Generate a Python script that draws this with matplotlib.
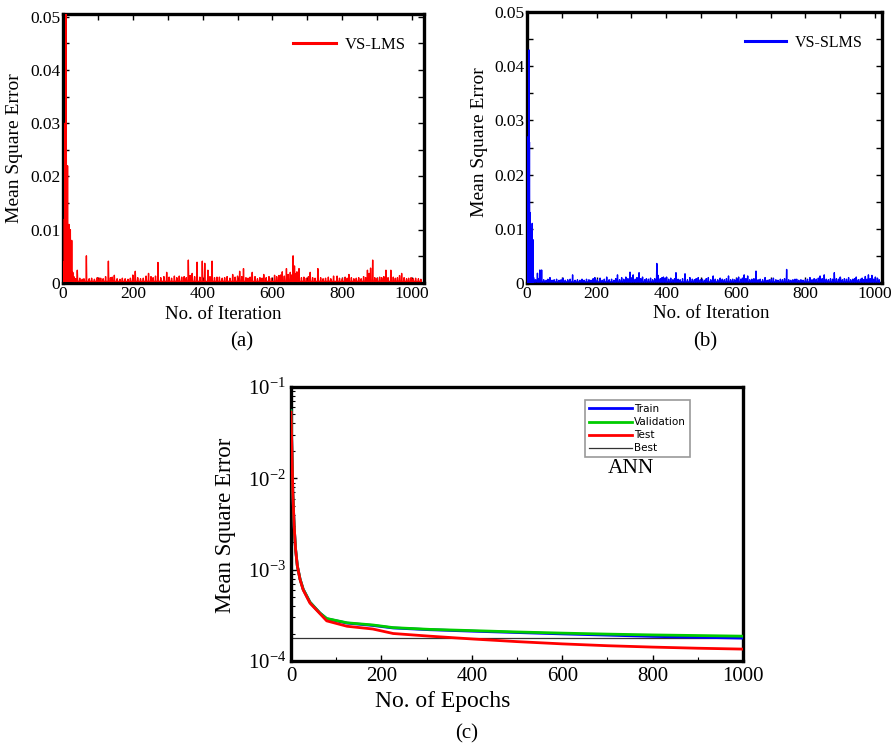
import numpy as np
import matplotlib
matplotlib.use("Agg")
import matplotlib.pyplot as plt
from matplotlib.ticker import MultipleLocator, LogLocator, NullFormatter, LogFormatterMathtext

plt.rcParams['font.family'] = ['Liberation Serif', 'DejaVu Serif']
plt.rcParams['mathtext.fontset'] = 'stix'

# ---------------- data ----------------
# (a) VS-LMS : spike iterations and MSE peaks (x1e-3)
lms_base = 0.0003
lms_iter = [2, 4, 6, 9, 11, 13, 15, 17, 19, 21, 23, 25, 28, 31,
            36, 41, 48, 55, 60, 67, 75, 82, 90, 98, 104, 108, 115, 122, 130, 136, 141, 147,
            155, 163, 170, 178, 186, 193, 200, 207, 214, 222, 230, 238, 245, 252, 258, 265, 272,
            280, 289, 297, 304, 311, 319, 326, 333, 340, 347, 353, 359, 364, 370, 377, 384, 392,
            399, 406, 415, 421, 427, 434, 441, 448, 456, 463, 470, 478, 486, 493, 500, 506, 512,
            517, 524, 530, 536, 542, 550, 557, 564, 570, 575, 582, 590, 597, 606, 612, 618, 623,
            628, 634, 640, 645, 651, 655, 659, 663, 667, 670, 676, 683, 690, 697, 703, 708, 715,
            722, 730, 738, 745, 752, 760, 767, 775, 785, 792, 800, 808, 814, 819, 826, 833, 840,
            847, 854, 861, 867, 872, 877, 881, 887, 893, 900, 907, 913, 919, 925, 931, 939, 946,
            952, 958, 964, 970, 977, 984, 990, 997, 1003, 1010, 1018, 1025]
lms_mse = [4.0, 12.0, 30.0, 50.5, 9.0, 22.0, 6.0, 11.0, 3.0, 10.0, 4.0, 8.0, 2.0, 1.2,
           0.8, 2.4, 0.9, 0.7, 0.8, 5.1, 0.8, 0.9, 0.7, 1.0, 0.9, 0.9, 0.8, 1.2, 4.1, 1.0, 1.1, 1.45,
           0.8, 0.7, 0.9, 0.8, 0.7, 0.9, 1.5, 2.2, 1.0, 0.8, 0.9, 1.3, 1.8, 1.2, 1.0, 1.3, 3.85,
           1.0, 1.2, 2.0, 1.1, 0.9, 1.3, 1.0, 1.3, 1.1, 1.2, 1.0, 4.3, 1.4, 1.8, 1.2, 3.9, 1.1,
           4.1, 3.7, 2.4, 1.2, 4.1, 1.0, 1.1, 1.1, 0.9, 1.0, 1.2, 0.9, 1.6, 1.1, 1.3, 2.2, 1.2,
           2.7, 1.0, 0.9, 1.1, 2.0, 1.2, 0.8, 1.0, 0.9, 1.6, 1.0, 1.2, 0.9, 1.45, 1.2, 1.4, 1.5,
           2.1, 1.3, 2.7, 1.6, 2.0, 1.5, 5.1, 3.2, 1.8, 2.1, 2.7, 1.0, 1.1, 0.9, 1.2, 2.0, 1.0,
           0.9, 2.7, 1.0, 0.8, 0.9, 1.1, 0.8, 1.3, 1.3, 0.9, 0.8, 1.1, 0.9, 1.6, 1.0, 0.8, 0.9,
           1.0, 0.8, 1.2, 1.0, 2.4, 1.8, 2.8, 4.3, 1.0, 0.9, 1.1, 1.0, 1.2, 2.4, 1.0, 2.4, 1.1,
           0.9, 1.0, 1.4, 1.8, 1.0, 0.8, 0.9, 1.0, 0.8, 0.9, 0.8, 0.7]

# (b) VS-SLMS : spike iterations and MSE peaks (x1e-3)
slms_base = 0.0002
slms_iter = [0, 2, 3, 5, 6, 7, 8, 9, 10, 11, 12, 13, 14, 15, 16, 17, 19, 21,
             25, 30, 34, 37, 42, 48, 55, 60, 66, 72, 78, 85, 92, 98, 104, 110, 117, 124, 131,
             138, 145, 152, 158, 164, 171, 178, 184, 190, 195, 202, 210, 216, 222, 229, 236,
             243, 250, 255, 260, 266, 272, 278, 284, 290, 296, 300, 305, 311, 316, 322, 327,
             332, 338, 343, 349, 355, 361, 367, 373, 377, 383, 388, 392, 397, 401, 407, 413,
             419, 424, 428, 434, 440, 447, 454, 461, 468, 475, 481, 486, 492, 498, 504, 510,
             515, 521, 528, 535, 541, 548, 555, 561, 567, 573, 579, 585, 591, 597, 603, 608,
             614, 619, 624, 629, 634, 640, 646, 652, 658, 664, 670, 677, 684, 690, 696, 702,
             708, 715, 721, 728, 734, 740, 746, 752, 758, 764, 770, 775, 781, 787, 793, 800,
             806, 813, 819, 825, 831, 837, 842, 848, 854, 860, 866, 872, 878, 883, 889, 895,
             900, 906, 912, 918, 924, 930, 936, 941, 946, 952, 958, 963, 967, 972, 977, 981,
             986, 991, 996, 1001, 1007, 1012]
slms_mse = [1.5, 8.0, 27.0, 12.0, 43.0, 26.0, 5.0, 13.0, 4.0, 10.0, 6.0, 9.0, 3.0, 11.0, 2.0, 8.0, 1.0, 0.5,
            0.6, 1.8, 0.8, 2.4, 2.4, 0.6, 0.5, 0.7, 1.0, 0.5, 0.6, 0.7, 0.5, 0.6, 0.9, 0.5, 0.6, 0.7, 1.5,
            0.5, 0.6, 0.5, 0.7, 0.5, 0.7, 0.6, 0.5, 0.8, 1.0, 0.6, 0.9, 0.5, 0.7, 1.1, 0.6,
            0.7, 0.5, 0.8, 1.5, 0.6, 1.0, 0.7, 1.1, 0.8, 2.0, 0.9, 1.5, 0.7, 1.0, 1.9, 0.8,
            1.1, 0.6, 0.8, 0.7, 0.9, 0.6, 0.8, 3.6, 1.4, 0.8, 1.0, 1.1, 0.9, 1.1, 0.7, 0.9,
            0.6, 0.8, 1.9, 0.7, 0.6, 0.8, 1.7, 0.6, 1.0, 0.7, 0.6, 0.8, 1.0, 0.6, 0.7, 0.5,
            0.8, 1.0, 0.6, 1.3, 0.7, 0.6, 0.9, 0.7, 0.6, 0.8, 1.3, 0.6, 0.7, 0.6, 0.8, 1.1,
            0.7, 0.9, 1.5, 0.8, 1.3, 0.6, 0.7, 0.8, 2.2, 0.6, 0.7, 0.6, 1.0, 0.5, 0.6, 0.7,
            0.9, 0.6, 0.5, 0.7, 0.6, 0.8, 2.5, 0.6, 0.5, 0.6, 0.7, 0.7, 0.5, 0.6, 0.5, 0.6,
            0.7, 1.0, 0.6, 0.8, 0.7, 0.9, 1.3, 0.8, 1.5, 0.7, 0.6, 0.8, 0.7, 1.9, 0.8, 0.7,
            1.1, 0.6, 0.8, 0.7, 1.0, 0.6, 0.7, 0.8, 1.1, 0.6, 0.7, 0.9, 0.6, 1.2, 0.7, 1.5,
            0.8, 1.4, 0.7, 1.1, 0.9, 0.6]

# (c) ANN training curves
ann_epoch = [0, 2, 4, 7, 10, 14, 20, 27, 42, 64, 79, 124, 181, 226, 307, 403, 500, 600, 700, 800, 900, 1000]
ann_train = [0.055, 0.02, 0.007, 0.003, 0.0017, 0.0011, 7.9e-4, 6.1e-4, 4.4e-4, 3.35e-4, 2.9e-4, 2.6e-4,
             2.45e-4, 2.3e-4, 2.2e-4, 2.12e-4, 2.05e-4, 1.98e-4, 1.92e-4, 1.86e-4, 1.82e-4, 1.78e-4]
ann_valid = [0.055, 0.02, 0.007, 0.003, 0.0017, 0.0011, 7.9e-4, 6.1e-4, 4.4e-4, 3.35e-4, 2.92e-4, 2.62e-4,
             2.48e-4, 2.32e-4, 2.22e-4, 2.15e-4, 2.08e-4, 2.02e-4, 1.97e-4, 1.93e-4, 1.9e-4, 1.87e-4]
ann_test = [0.053, 0.02, 0.007, 0.003, 0.0017, 0.0011, 7.8e-4, 6.0e-4, 4.3e-4, 3.3e-4, 2.75e-4, 2.4e-4,
            2.24e-4, 2.0e-4, 1.87e-4, 1.74e-4, 1.63e-4, 1.54e-4, 1.47e-4, 1.42e-4, 1.38e-4, 1.35e-4]
ann_best = 1.8e-4


def spike_series(xs, ys_milli, base):
    px, py = [], []
    for x, y in zip(xs, ys_milli):
        px += [x - 1.0, x, x + 1.0]
        py += [base, y * 1e-3, base]
    return px, py


fig = plt.figure(figsize=(8.94, 7.5), dpi=100)

SPW = 2.4
tick_font = 12.5


def style_linear(ax):
    for s in ax.spines.values():
        s.set_linewidth(SPW)
    ax.tick_params(which='both', direction='in', top=True, right=True, labelsize=tick_font, pad=2)
    ax.tick_params(which='major', length=4, width=1)
    ax.tick_params(which='minor', length=4, width=1)


# ---- (a)
axa = fig.add_axes([63/894, 1-283/750, 361/894, 269/750])
x, y = spike_series(lms_iter, lms_mse, lms_base)
axa.plot(x, y, color='#ff0000', lw=1.0, label='VS-LMS', zorder=3)
axa.set_xlim(0, 1034)
axa.set_ylim(0, 0.0505)
axa.xaxis.set_major_locator(MultipleLocator(200))
axa.xaxis.set_minor_locator(MultipleLocator(100))
axa.set_yticks([0, 0.01, 0.02, 0.03, 0.04, 0.05])
axa.set_yticklabels(['0', '0.01', '0.02', '0.03', '0.04', '0.05'])
axa.yaxis.set_minor_locator(MultipleLocator(0.005))
style_linear(axa)
leg = axa.legend(loc='upper right', frameon=False, fontsize=12, handlelength=2.6,
                 bbox_to_anchor=(0.99, 0.97), handletextpad=0.5)
for l in leg.get_lines():
    l.set_linewidth(2.2)

# ---- (b)
axb = fig.add_axes([527/894, 1-283/750, 355/894, 271/750])
x, y = spike_series(slms_iter, slms_mse, slms_base)
axb.plot(x, y, color='#0000ff', lw=1.0, label='VS-SLMS', zorder=3)
axb.set_xlim(0, 1020)
axb.set_ylim(0, 0.05)
axb.xaxis.set_major_locator(MultipleLocator(200))
axb.xaxis.set_minor_locator(MultipleLocator(100))
axb.set_yticks([0, 0.01, 0.02, 0.03, 0.04, 0.05])
axb.set_yticklabels(['0', '0.01', '0.02', '0.03', '0.04', '0.05'])
axb.yaxis.set_minor_locator(MultipleLocator(0.005))
style_linear(axb)
leg = axb.legend(loc='upper right', frameon=False, fontsize=11.5, handlelength=2.6,
                 bbox_to_anchor=(0.985, 0.97), handletextpad=0.5)
for l in leg.get_lines():
    l.set_linewidth(2.2)

# ---- (c)
axc = fig.add_axes([291/894, 1-661/750, 452/894, 274/750])
axc.plot(ann_epoch, ann_train, color='#0000ff', lw=2.0, label='Train', zorder=3)
axc.plot(ann_epoch, ann_valid, color='#00cc00', lw=2.0, label='Validation', zorder=3)
axc.plot(ann_epoch, ann_test, color='#ff0000', lw=2.0, label='Test', zorder=3)
axc.axhline(ann_best, color='#333333', lw=0.9, label='Best')
axc.set_yscale('log')
axc.set_xlim(0, 1000)
axc.set_ylim(1e-4, 1e-1)
axc.xaxis.set_major_locator(MultipleLocator(200))
axc.xaxis.set_minor_locator(MultipleLocator(100))
axc.yaxis.set_major_locator(LogLocator(base=10))
axc.yaxis.set_minor_locator(LogLocator(base=10, subs=np.arange(2, 10)))
axc.yaxis.set_minor_formatter(NullFormatter())
axc.yaxis.set_major_formatter(LogFormatterMathtext())
for s in axc.spines.values():
    s.set_linewidth(SPW)
axc.tick_params(which='both', direction='in', labelsize=15)
axc.tick_params(axis='x', pad=4)
axc.tick_params(which='major', length=4, width=1)
axc.tick_params(which='minor', length=3, width=0.8)
leg = axc.legend(loc='upper right', prop={'family': 'DejaVu Sans', 'size': 7.5},
                 frameon=True, fancybox=False, edgecolor='#808080', handlelength=4.2,
                 labelspacing=0.3, borderpad=0.35, handletextpad=0.2,
                 bbox_to_anchor=(0.894, 0.97))
leg.get_frame().set_linewidth(1.2)
leg.set_zorder(5)
axc.text(0.752, 0.704, 'ANN', transform=axc.transAxes, fontsize=15.5, ha='center', va='center')

# ---- labels
fig.text(15/894, 1-148/750, 'Mean Square Error', rotation=90, ha='center', va='center', fontsize=14)
fig.text(223/894, 1-315/750, 'No. of Iteration', ha='center', va='center', fontsize=13.5)
fig.text(242/894, 1-342/750, '(a)', ha='center', va='center', fontsize=15)

fig.text(480/894, 1-142/750, 'Mean Square Error', rotation=90, ha='center', va='center', fontsize=14)
fig.text(711/894, 1-313/750, 'No. of Iteration', ha='center', va='center', fontsize=13.5)
fig.text(705/894, 1-342/750, '(b)', ha='center', va='center', fontsize=15)

fig.text(226/894, 1-525/750, 'Mean Square Error', rotation=90, ha='center', va='center', fontsize=16.5)
fig.text(443/894, 1-702/750, 'No. of Epochs', ha='center', va='center', fontsize=17)
fig.text(467/894, 1-734/750, '(c)', ha='center', va='center', fontsize=15)

fig.savefig('out.png', dpi=100)
